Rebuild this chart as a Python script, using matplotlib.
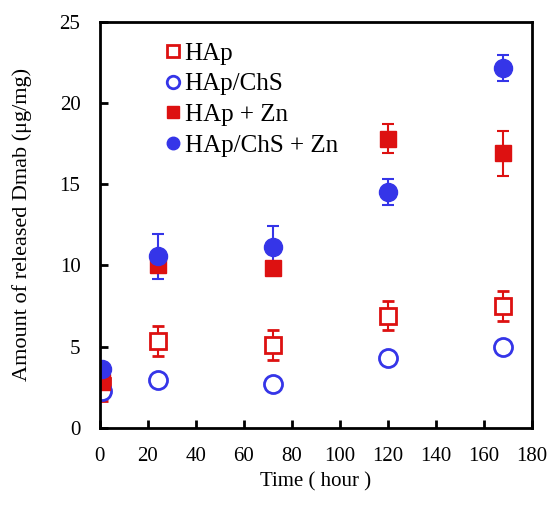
import matplotlib.pyplot as plt
from matplotlib.lines import Line2D

# time points (hour)
time = [1, 24, 72, 120, 168]

# released Dmab (ug/mg) and error bars
hap = [2.55, 5.35, 5.1, 6.9, 7.5]
hap_err = [0.9, 0.9, 0.9, 0.9, 0.9]
hap_chs = [2.25, 2.95, 2.7, 4.3, 4.95]
hap_chs_err = [0.2, 0.2, 0.2, 0.2, 0.2]
hap_zn = [2.85, 10.05, 9.85, 17.8, 16.9]
hap_zn_err = [0.3, 0.3, 0.2, 0.9, 1.4]
hap_chs_zn = [3.6, 10.55, 11.15, 14.55, 22.15]
hap_chs_zn_err = [0.3, 1.4, 1.3, 0.8, 0.8]

red = '#DD1111'
blue = '#3535E8'

plt.rcParams['font.family'] = ['Liberation Serif', 'DejaVu Serif']

fig = plt.figure(figsize=(5.49, 5.18), dpi=100)
ax = fig.add_axes([0.182, 0.174, 0.787, 0.784])

common = dict(linestyle='none', capsize=4, elinewidth=1.5, capthick=1.5)
ax.errorbar(time, hap, yerr=hap_err, marker='s', ms=12, mfc='white', mec=red,
            mew=2, color=red, **common)
ax.errorbar(time, hap_chs, yerr=hap_chs_err, marker='o', ms=13, mfc='white', mec=blue,
            mew=2, color=blue, **common)
ax.errorbar(time, hap_zn, yerr=hap_zn_err, marker='s', ms=12, mfc=red, mec=red,
            color=red, **common)
ax.errorbar(time, hap_chs_zn, yerr=hap_chs_zn_err, marker='o', ms=13, mfc=blue, mec=blue,
            color=blue, **common)

ax.set_xlim(0, 180)
ax.set_ylim(0, 25)
ax.set_xticks(range(0, 181, 20))
ax.set_yticks(range(0, 26, 5))
ax.tick_params(direction='in', length=6, width=2, labelsize=15, top=False, right=False)
ax.tick_params(axis='x', pad=14)
ax.tick_params(axis='y', pad=14)
for s in ax.spines.values():
    s.set_linewidth(2)

ax.set_xlabel('Time ( hour )', fontsize=15, labelpad=4)
ax.set_ylabel('Amount of released Dmab (μg/mg)', fontsize=16, labelpad=20)

handles = [
    Line2D([], [], ls='none', marker='s', ms=9, mfc='white', mec=red, mew=2, label='HAp'),
    Line2D([], [], ls='none', marker='o', ms=9, mfc='white', mec=blue, mew=2, label='HAp/ChS'),
    Line2D([], [], ls='none', marker='s', ms=9, mfc=red, mec=red, label='HAp + Zn'),
    Line2D([], [], ls='none', marker='o', ms=9, mfc=blue, mec=blue, label='HAp/ChS + Zn'),
]
ax.legend(handles=handles, loc='upper left', bbox_to_anchor=(0.095, 1.005), frameon=False,
          fontsize=18, handletextpad=0.05, handlelength=0.8, labelspacing=0.33)

fig.savefig('out.png', dpi=100)
